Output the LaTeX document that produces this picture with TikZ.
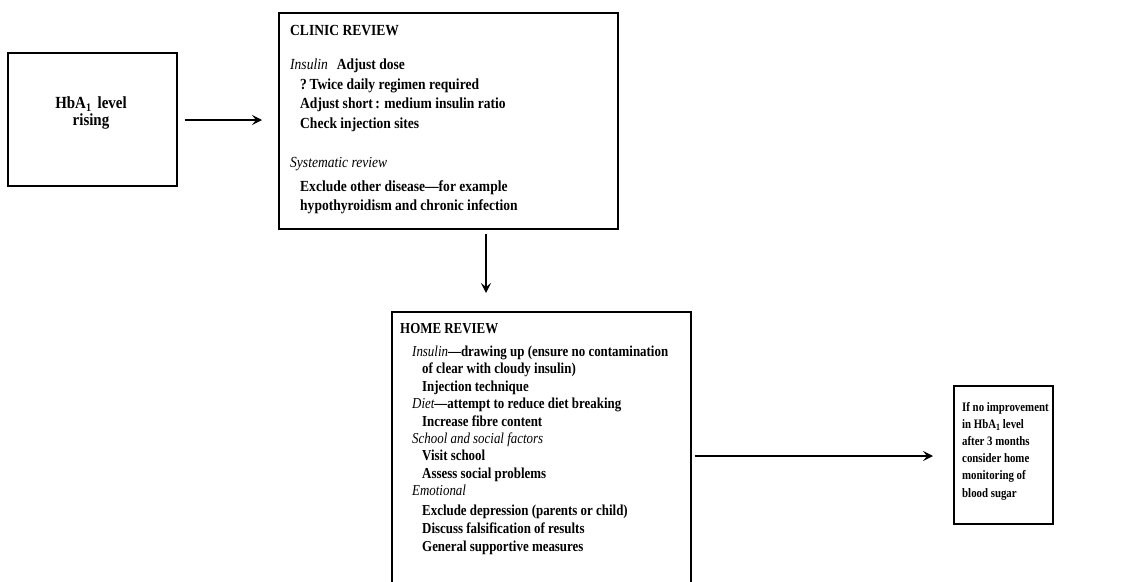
\documentclass[tikz,border=0pt]{standalone}
\usepackage{fontspec}
\setmainfont{Liberation Serif}
\newfontfamily\clinfont{Liberation Serif}[Ligatures=TeX, FakeStretch=0.88]
\newfontfamily\homefont{Liberation Serif}[Ligatures=TeX, FakeStretch=0.85]
\newfontfamily\smfont{Liberation Serif}[Ligatures=TeX, FakeStretch=0.84]
\usetikzlibrary{arrows.meta}
\tikzset{
  box/.style={draw=black, line width=1.5pt, rectangle, inner sep=0pt, anchor=north west},
  txt/.style={anchor=base west, inner sep=0pt, font=\clinfont\fontsize{15.4}{17}\selectfont\bfseries},
  htxt/.style={anchor=base west, inner sep=0pt, font=\homefont\fontsize{15.2}{17}\selectfont\bfseries},
  smtxt/.style={anchor=base west, inner sep=0pt, font=\smfont\fontsize{12.9}{14}\selectfont\bfseries},
  arr/.style={line width=1.3pt, -{Stealth[length=10pt,width=10pt,inset=4pt]}},
}
\newcommand{\ital}[1]{{\mdseries\itshape #1}}
\newcommand{\hbaone}[1]{HbA\raisebox{-0.35ex}{\fontsize{#1}{#1}\selectfont 1}}
\begin{document}
\begin{tikzpicture}[x=1pt,y=-1pt]
\useasboundingbox (0,0) rectangle (1124,581);
\clip (0,0) rectangle (1124,581);
% boxes
\node[box, minimum width=169pt, minimum height=133pt] (b1) at (7,52) {};
\node[box, minimum width=339pt, minimum height=216pt] (b2) at (278,12) {};
\node[box, minimum width=299pt, minimum height=300pt] (b3) at (391,311) {};
\node[box, minimum width=99pt, minimum height=138pt] (b4) at (953,385) {};
% box 1 text
\node[inner sep=0pt, align=center, font=\clinfont\fontsize{17}{17.5}\selectfont\bfseries] (t1) at (91,113) {\hbaone{11.5}\ \,level\\rising};
% clinic review
\node[txt] (c0) at (290,35) {CLINIC REVIEW};
\node[txt] (c1) at (290,69.5) {\ital{Insulin}\hspace{9pt}Adjust dose};
\node[txt] (c2) at (300,89) {?\,Twice daily regimen required};
\node[txt] (c3) at (300,108.5) {Adjust short\,: medium insulin ratio};
\node[txt] (c4) at (300,128) {Check injection sites};
\node[txt] (c5) at (290,167) {\ital{Systematic review}};
\node[txt] (c6) at (300,191) {Exclude other disease---for example};
\node[txt] (c7) at (300,210) {hypothyroidism and chronic infection};
% home review
\node[htxt] (h0) at (400,333) {HOME REVIEW};
\node[htxt] (h1) at (412,356.5) {\ital{Insulin}---drawing up (ensure no contamination};
\node[htxt] (h2) at (422,373.9) {of clear with cloudy insulin)};
\node[htxt] (h3) at (422,391.3) {Injection technique};
\node[htxt] (h4) at (412,408.7) {\ital{Diet}---attempt to reduce diet breaking};
\node[htxt] (h5) at (422,426.1) {Increase fibre content};
\node[htxt] (h6) at (412,443.5) {\ital{School and social factors}};
\node[htxt] (h7) at (422,460.9) {Visit school};
\node[htxt] (h8) at (422,478.3) {Assess social problems};
\node[htxt] (h9) at (412,495.7) {\ital{Emotional}};
\node[htxt] (h10) at (422,515) {Exclude depression (parents or child)};
\node[htxt] (h11) at (422,533) {Discuss falsification of results};
\node[htxt] (h12) at (422,551) {General supportive measures};
% box 4 text
\node[smtxt] (r1) at (962,411) {If no improvement};
\node[smtxt] (r2) at (962,428.2) {in \hbaone{9.5} level};
\node[smtxt] (r3) at (962,445.4) {after 3 months};
\node[smtxt] (r4) at (962,462.6) {consider home};
\node[smtxt] (r5) at (962,479.8) {monitoring of};
\node[smtxt] (r6) at (962,497) {blood sugar};
% connectors
\coordinate (a1) at (0,120);
\coordinate (a2) at (486,0);
\coordinate (a3) at (0,456);
\draw[arr, shorten <=7pt, shorten >=16pt] (b1.east |- a1) -- (b2.west |- a1);
\draw[arr, shorten <=4pt, shorten >=18pt] (b2.south -| a2) -- (b3.north -| a2);
\draw[arr, shorten <=3pt, shorten >=20pt] (b3.east |- a3) -- (b4.west |- a3);
\end{tikzpicture}
\end{document}
